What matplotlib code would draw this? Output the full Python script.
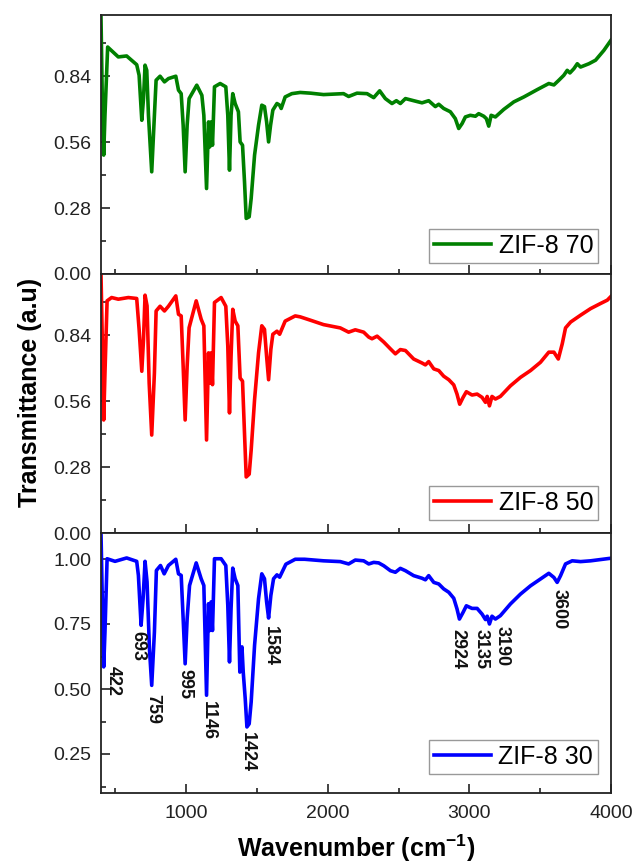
import matplotlib
matplotlib.use("Agg")
import matplotlib.pyplot as plt
from matplotlib.ticker import MultipleLocator

plt.rcParams['font.family'] = ['Liberation Sans', 'DejaVu Sans']
plt.rcParams['mathtext.fontset'] = 'custom'
plt.rcParams['mathtext.rm'] = 'Liberation Sans'
plt.rcParams['mathtext.bf'] = 'Liberation Sans:bold'

# ZIF-8 70 (top)
wn_70 = [
    400, 409, 419, 428, 447, 522, 581, 652, 669, 688,
    700, 711, 723, 735, 758, 777, 789, 817, 848, 876,
    928, 947, 966, 980, 994, 1008, 1022, 1076, 1112, 1126,
    1145, 1159, 1168, 1177, 1187, 1201, 1241, 1281, 1295, 1307,
    1318, 1330, 1347, 1370, 1382, 1399, 1413, 1425, 1446, 1460,
    1484, 1512, 1535, 1554, 1569, 1583, 1597, 1613, 1642, 1661,
    1672, 1700, 1747, 1806, 1880, 1971, 2112, 2148, 2207, 2278,
    2325, 2367, 2407, 2454, 2485, 2513, 2549, 2607, 2666, 2713,
    2760, 2784, 2819, 2866, 2901, 2925, 2949, 2972, 3007, 3043,
    3066, 3102, 3120, 3137, 3154, 3184, 3243, 3314, 3385, 3479,
    3561, 3597, 3632, 3667, 3691, 3710, 3738, 3762, 3785, 3844,
    3891, 3950, 4000]
t_70 = [
    1.09, 0.745, 0.505, 0.674, 0.964, 0.922, 0.926, 0.889, 0.844, 0.653,
    0.745, 0.887, 0.865, 0.674, 0.434, 0.674, 0.823, 0.840, 0.816, 0.830,
    0.840, 0.781, 0.766, 0.632, 0.434, 0.632, 0.745, 0.802, 0.759, 0.674,
    0.363, 0.646, 0.540, 0.646, 0.547, 0.795, 0.809, 0.795, 0.674, 0.441,
    0.674, 0.766, 0.724, 0.689, 0.561, 0.547, 0.392, 0.236, 0.243, 0.321,
    0.505, 0.632, 0.717, 0.711, 0.646, 0.561, 0.632, 0.696, 0.724, 0.717,
    0.703, 0.752, 0.766, 0.771, 0.768, 0.762, 0.766, 0.754, 0.768, 0.766,
    0.749, 0.778, 0.745, 0.724, 0.736, 0.724, 0.745, 0.736, 0.727, 0.736,
    0.711, 0.721, 0.703, 0.689, 0.660, 0.618, 0.639, 0.667, 0.674, 0.670,
    0.681, 0.670, 0.660, 0.628, 0.674, 0.667, 0.699, 0.731, 0.752, 0.783,
    0.809, 0.803, 0.823, 0.844, 0.865, 0.854, 0.872, 0.893, 0.879, 0.893,
    0.908, 0.950, 0.993]

# ZIF-8 50 (middle)
wn_50 = [
    400, 409, 419, 428, 443, 475, 522, 593, 652, 669,
    688, 700, 711, 725, 740, 758, 777, 789, 817, 848,
    876, 928, 947, 966, 980, 994, 1008, 1022, 1072, 1107,
    1126, 1145, 1159, 1168, 1177, 1187, 1201, 1248, 1281, 1295,
    1307, 1318, 1330, 1347, 1366, 1382, 1399, 1413, 1425, 1446,
    1460, 1484, 1512, 1535, 1554, 1569, 1583, 1599, 1613, 1642,
    1661, 1700, 1771, 1806, 1877, 1971, 2089, 2148, 2195, 2254,
    2290, 2313, 2349, 2396, 2443, 2478, 2513, 2549, 2607, 2666,
    2690, 2713, 2749, 2784, 2819, 2855, 2890, 2913, 2932, 2956,
    2979, 3019, 3055, 3090, 3114, 3126, 3142, 3160, 3184, 3219,
    3290, 3361, 3432, 3502, 3561, 3597, 3628, 3656, 3679, 3715,
    3785, 3856, 3927, 3974, 4000]
t_50 = [
    1.10, 0.822, 0.480, 0.680, 0.986, 1.000, 0.993, 1.000, 0.996, 0.865,
    0.687, 0.822, 1.010, 0.965, 0.637, 0.416, 0.680, 0.943, 0.963, 0.943,
    0.963, 1.007, 0.929, 0.922, 0.708, 0.480, 0.708, 0.872, 0.986, 0.908,
    0.880, 0.395, 0.765, 0.637, 0.765, 0.630, 0.979, 1.000, 0.963, 0.794,
    0.510, 0.750, 0.950, 0.900, 0.880, 0.658, 0.645, 0.423, 0.238, 0.250,
    0.352, 0.566, 0.765, 0.880, 0.865, 0.750, 0.651, 0.780, 0.844, 0.857,
    0.844, 0.900, 0.922, 0.918, 0.904, 0.885, 0.871, 0.853, 0.863, 0.853,
    0.832, 0.825, 0.836, 0.811, 0.782, 0.761, 0.779, 0.775, 0.739, 0.722,
    0.714, 0.728, 0.697, 0.690, 0.666, 0.651, 0.629, 0.590, 0.547, 0.576,
    0.600, 0.586, 0.590, 0.576, 0.555, 0.580, 0.540, 0.580, 0.569, 0.580,
    0.625, 0.661, 0.690, 0.725, 0.768, 0.768, 0.739, 0.804, 0.871, 0.896,
    0.925, 0.953, 0.975, 0.989, 1.005]

# ZIF-8 30 (bottom)
wn_30 = [
    400, 409, 419, 428, 443, 499, 581, 652, 664, 683,
    697, 711, 725, 742, 758, 777, 791, 820, 846, 876,
    928, 947, 966, 980, 994, 1008, 1025, 1072, 1107, 1126,
    1145, 1159, 1168, 1177, 1187, 1201, 1248, 1281, 1295, 1307,
    1318, 1330, 1347, 1366, 1380, 1395, 1404, 1418, 1430, 1446,
    1460, 1484, 1512, 1535, 1554, 1569, 1583, 1599, 1618, 1642,
    1661, 1705, 1771, 1837, 1971, 2089, 2148, 2195, 2254, 2290,
    2325, 2360, 2396, 2443, 2478, 2513, 2549, 2607, 2666, 2690,
    2713, 2749, 2784, 2819, 2855, 2890, 2913, 2930, 2956, 2979,
    3019, 3055, 3090, 3114, 3126, 3142, 3160, 3184, 3219, 3290,
    3361, 3432, 3502, 3561, 3597, 3620, 3644, 3679, 3726, 3785,
    3856, 3985, 4000]
t_30 = [
    1.10, 0.847, 0.585, 0.719, 1.001, 0.991, 1.004, 0.991, 0.937, 0.745,
    0.847, 0.991, 0.912, 0.655, 0.514, 0.719, 0.956, 0.975, 0.943, 0.975,
    0.999, 0.943, 0.937, 0.770, 0.597, 0.770, 0.898, 0.985, 0.924, 0.898,
    0.476, 0.828, 0.725, 0.835, 0.725, 1.001, 1.001, 0.975, 0.822, 0.604,
    0.809, 0.965, 0.924, 0.898, 0.565, 0.662, 0.565, 0.463, 0.354, 0.366,
    0.450, 0.668, 0.847, 0.943, 0.924, 0.835, 0.773, 0.860, 0.924, 0.939,
    0.930, 0.980, 0.999, 0.999, 0.993, 0.990, 0.981, 0.996, 0.993, 0.981,
    0.987, 0.985, 0.974, 0.955, 0.949, 0.964, 0.955, 0.936, 0.926, 0.920,
    0.936, 0.910, 0.904, 0.885, 0.872, 0.849, 0.808, 0.769, 0.795, 0.820,
    0.810, 0.810, 0.788, 0.767, 0.780, 0.750, 0.780, 0.769, 0.782, 0.827,
    0.865, 0.897, 0.923, 0.945, 0.929, 0.910, 0.936, 0.981, 0.993, 0.990,
    0.993, 1.002, 1.003]

# peak labels (bottom panel)
peak_labels = ['422', '693', '759', '995', '1146', '1424', '1584',
               '2924', '3135', '3190', '3600']
peak_x = [485, 661, 767, 994, 1156, 1432, 1594, 2916, 3085, 3234, 3637]
peak_y = [0.59, 0.723, 0.48, 0.577, 0.454, 0.335, 0.742, 0.73, 0.73, 0.742, 0.885]

fig = plt.figure(figsize=(6.35, 8.68), dpi=100)
W, H = 635, 868
left, right = 101, 611
tops = [15, 274, 533]
bots = [274, 533, 793]
axes = []
for t, b in zip(tops, bots):
    ax = fig.add_axes([left / W, 1 - b / H, (right - left) / W, (b - t) / H])
    axes.append(ax)

series = [(wn_70, t_70, 'green', 'ZIF-8 70', 0.042),
          (wn_50, t_50, 'red', 'ZIF-8 50', 0.05),
          (wn_30, t_30, 'blue', 'ZIF-8 30', 0.073)]

for ax, (x, y, c, lab, ly) in zip(axes, series):
    ax.plot(x, y, color=c, lw=2.6, label=lab, solid_joinstyle='round')
    ax.set_xlim(400, 4000)
    ax.xaxis.set_major_locator(MultipleLocator(1000))
    ax.xaxis.set_minor_locator(MultipleLocator(500))
    ax.tick_params(which='both', direction='in', top=False, right=False,
                   labelsize=14, width=1.2, colors='#222222', labelcolor='#222222')
    ax.tick_params(which='major', length=6.5)
    ax.tick_params(which='minor', length=3.5)
    ax.tick_params(axis='y', pad=7)
    ax.tick_params(axis='x', pad=9)
    for s in ax.spines.values():
        s.set_linewidth(1.3)
        s.set_color('#222222')
    leg = ax.legend(loc='lower right', bbox_to_anchor=(0.975, ly), borderaxespad=0,
                    fontsize=18, frameon=True, fancybox=False, framealpha=1,
                    edgecolor='#999999', handlelength=2.3, handletextpad=0.3,
                    borderpad=0.2)
    leg.get_frame().set_linewidth(1.0)

for ax in axes[:2]:
    ax.set_ylim(0, 1.1)
    ax.yaxis.set_major_locator(MultipleLocator(0.28))
    ax.yaxis.set_minor_locator(MultipleLocator(0.14))
    ax.yaxis.set_major_formatter(plt.FormatStrFormatter('%.2f'))
    ax.tick_params(axis='x', labelbottom=False)

axes[2].set_ylim(0.1, 1.1)
axes[2].yaxis.set_major_locator(MultipleLocator(0.25))
axes[2].yaxis.set_minor_locator(MultipleLocator(0.125))
axes[2].yaxis.set_major_formatter(plt.FormatStrFormatter('%.2f'))

for lab, px, py in zip(peak_labels, peak_x, peak_y):
    axes[2].text(px, py, lab, rotation=270, ha='center', va='top',
                 fontsize=13, fontweight='bold', color='#111111')

fig.text(30 / W, 1 - 392 / H, 'Transmittance (a.u)', rotation=90,
         ha='center', va='center', fontsize=18, fontweight='bold')
fig.text(356 / W, 1 - 848 / H, r'Wavenumber (cm$^{\mathbf{-1}}$)',
         ha='center', va='center', fontsize=18, fontweight='bold')

fig.savefig('out.png', dpi=100)
